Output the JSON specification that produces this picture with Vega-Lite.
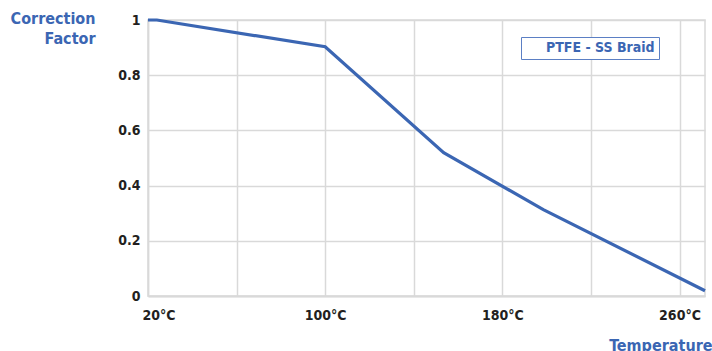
{
  "$schema": "https://vega.github.io/schema/vega-lite/v6.json",
  "autosize": "none",
  "width": 557,
  "height": 276,
  "padding": {"left": 148, "top": 20, "right": 7, "bottom": 55},
  "background": "white",
  "config": {
    "view": {"stroke": "#d9d9d9", "strokeWidth": 1.5},
    "font": "DejaVu Sans Condensed"
  },
  "data": {
    "values": [
      {"temp": 20, "factor": 1.0},
      {"temp": 24, "factor": 1.0},
      {"temp": 100, "factor": 0.903},
      {"temp": 153.5, "factor": 0.519},
      {"temp": 198.5, "factor": 0.313},
      {"temp": 271.5, "factor": 0.019}
    ]
  },
  "mark": {"type": "line", "strokeWidth": 3.2, "strokeJoin": "miter"},
  "encoding": {
    "x": {
      "field": "temp",
      "type": "quantitative",
      "scale": {"domain": [20, 271.5], "nice": false, "zero": false},
      "axis": {
        "values": [20, 60, 100, 140, 180, 220, 260],
        "labelExpr": "datum.value % 80 == 20 ? datum.value + '°C' : ''",
        "labelFont": "DejaVu Sans Condensed",
        "labelFontWeight": "bold",
        "labelFontSize": 14,
        "labelColor": "#231f20",
        "labelPadding": 12,
        "labelFlush": true,
        "labelFlushOffset": 6,
        "ticks": false,
        "grid": true,
        "gridColor": "#d9d9d9",
        "gridWidth": 1.5,
        "domainColor": "#d9d9d9",
        "domainWidth": 2,
        "title": "Temperature",
        "titleFont": "DejaVu Sans Condensed",
        "titleFontWeight": "bold",
        "titleFontSize": 16,
        "titleColor": "#3b66b3",
        "titleAnchor": "end",
        "titleAlign": "right",
        "titleBaseline": "top",
        "titleX": 564,
        "titleY": 41
      }
    },
    "y": {
      "field": "factor",
      "type": "quantitative",
      "scale": {"domain": [0, 1], "nice": false},
      "axis": {
        "values": [0, 0.2, 0.4, 0.6, 0.8, 1],
        "format": "~g",
        "labelFont": "DejaVu Sans Condensed",
        "labelFontWeight": "bold",
        "labelFontSize": 14,
        "labelColor": "#231f20",
        "labelPadding": 8,
        "ticks": false,
        "grid": true,
        "gridColor": "#d9d9d9",
        "gridWidth": 1.5,
        "domainColor": "#d9d9d9",
        "domainWidth": 1.5,
        "title": ["Correction", "Factor"],
        "titleFont": "DejaVu Sans Condensed",
        "titleFontWeight": "bold",
        "titleFontSize": 16,
        "titleLineHeight": 20,
        "titleColor": "#3b66b3",
        "titleAngle": 0,
        "titleAlign": "right",
        "titleBaseline": "top",
        "titleX": -53,
        "titleY": -10
      }
    },
    "color": {
      "datum": "PTFE - SS Braid",
      "type": "nominal",
      "scale": {"range": ["#3b66b3"]},
      "legend": {
        "title": null,
        "orient": "none",
        "legendX": 373,
        "legendY": 17,
        "padding": 4,
        "strokeColor": "#5b7fc4",
        "fillColor": "white",
        "symbolSize": 0,
        "symbolOpacity": 0,
        "symbolStrokeWidth": 0,
        "labelOffset": 7,
        "labelExpr": "datum.label + '  '",
        "labelFont": "DejaVu Sans Condensed",
        "labelFontWeight": "bold",
        "labelFontSize": 14,
        "labelColor": "#3b66b3"
      }
    }
  }
}
